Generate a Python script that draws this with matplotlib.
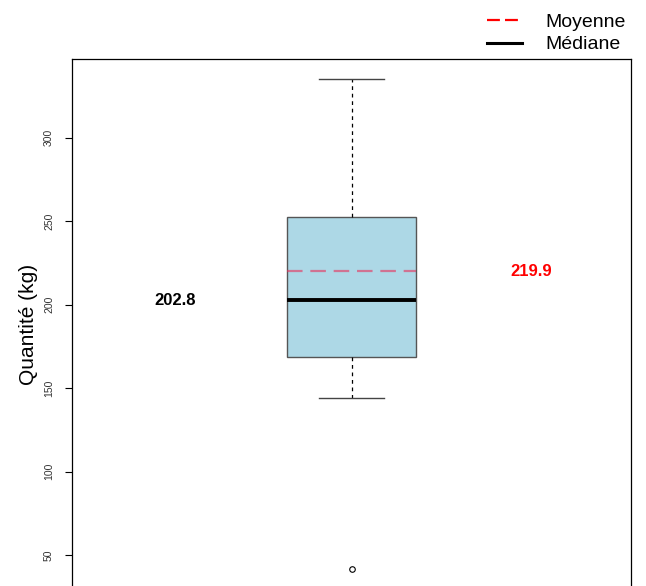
import matplotlib
matplotlib.use("Agg")
import matplotlib.pyplot as plt
from matplotlib.lines import Line2D

plt.rcParams['font.family'] = ['Liberation Sans', 'DejaVu Sans']

# Data
q1 = 168.4
median = 202.8
q3 = 252.2
whisker_low = 143.9
whisker_high = 335.3
outliers = [41.6]
mean = 219.9
yticks = [50, 100, 150, 200, 250, 300]

fig = plt.figure(figsize=(6.46, 5.86), dpi=100)
ax = fig.add_axes([0.1115, -0.0051, 0.8653, 0.9044])

stats = [{
    'med': median, 'q1': q1, 'q3': q3,
    'whislo': whisker_low, 'whishi': whisker_high,
    'fliers': outliers, 'mean': mean,
}]
ax.bxp(stats, positions=[1], widths=0.23, patch_artist=True, showmeans=False,
       boxprops=dict(facecolor='#ADD8E6', edgecolor='#555555', linewidth=1.0),
       medianprops=dict(color='black', linewidth=2.8),
       whiskerprops=dict(color='black', linestyle=(0, (3, 3)), linewidth=0.9),
       capprops=dict(color='#444444', linewidth=1.0),
       capwidths=0.115,
       flierprops=dict(marker='o', markersize=4, markerfacecolor='none',
                       markeredgecolor='black', markeredgewidth=0.8))

ax.hlines(mean, 1 - 0.115, 1 + 0.115, colors='#E8305A', alpha=0.6,
          linestyles=(0, (7, 3.5)), linewidth=1.6, zorder=3)

ax.text(0.684, median, f"{median:.1f}", fontsize=12, fontweight='bold',
        color='black', ha='center', va='center')
ax.text(1.321, mean, f"{mean:.1f}", fontsize=12, fontweight='bold',
        color='red', ha='center', va='center')

span = whisker_high - min(outliers)
ax.set_ylim(min(outliers) - 0.04 * span, whisker_high + 0.04 * span)
ax.set_xlim(0.5, 1.5)
ax.set_xticks([])
ax.set_yticks(yticks)
ax.set_yticklabels([str(t) for t in yticks], rotation=90, va='center',
                   fontsize=7.5, color='#333333')
ax.tick_params(axis='y', length=5, pad=8)
ax.set_ylabel("Quantité (kg)", fontsize=15, labelpad=4)
for s in ax.spines.values():
    s.set_linewidth(0.9)

handles = [Line2D([0], [0], color='red', linestyle=(0, (5.8, 2.3)), linewidth=1.6),
           Line2D([0], [0], color='black', linewidth=2.2)]
fig.legend(handles, ["Moyenne", "Médiane"], loc='upper right',
           bbox_to_anchor=(0.995, 1.007), frameon=False, fontsize=14,
           handlelength=1.8, handletextpad=1.2, labelspacing=0.25)

fig.savefig("out.png", dpi=100)
